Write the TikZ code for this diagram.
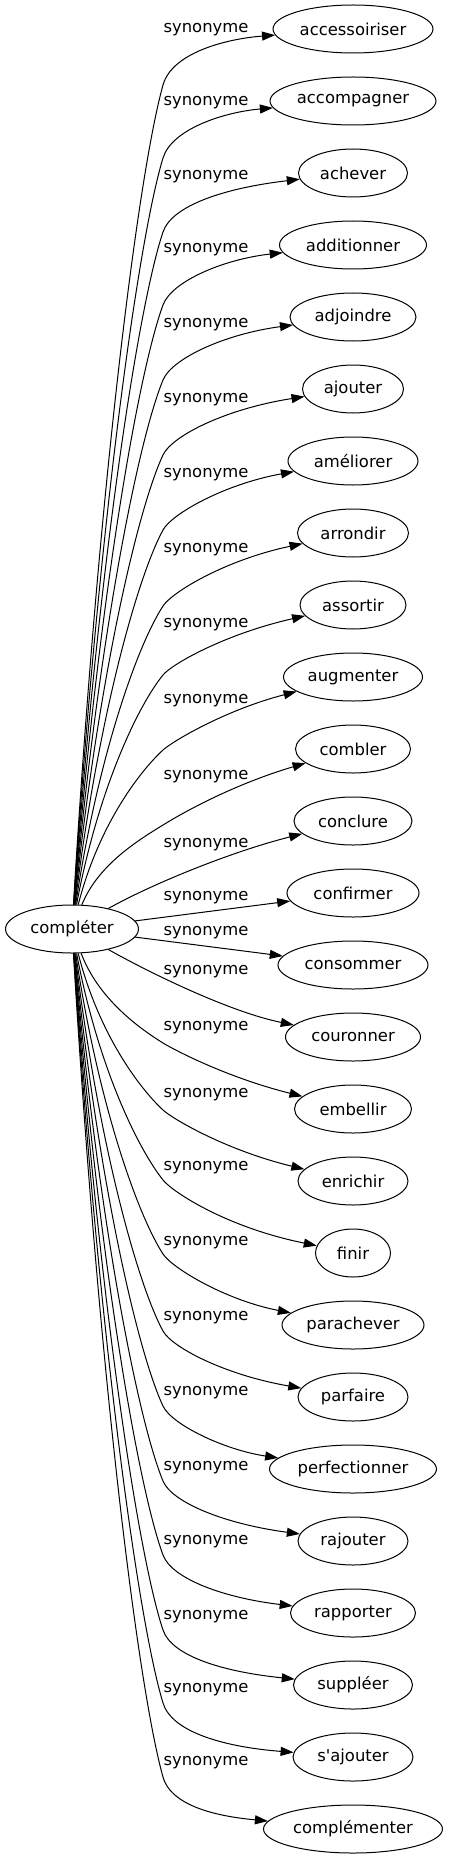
\documentclass[tikz,border=0pt]{standalone}
\usepackage{fontspec}
\setmainfont{DejaVu Sans}
\usetikzlibrary{arrows.meta,shapes.geometric}

\tikzset{
  word/.style={draw,ellipse,line width=1pt,inner sep=0pt,minimum height=48pt,
    minimum width=#1,font=\fontsize{16.4}{18}\selectfont},
  lbl/.style={inner sep=0pt,font=\fontsize{16.4}{18}\selectfont},
  syn/.style={-{Triangle[length=13pt,width=9pt]},line width=1pt}
}

\begin{document}
\begin{tikzpicture}[x=1pt,y=1pt]
  \useasboundingbox (0,0) rectangle (448,-1859);

  \node[word=133pt] (cpl) at (72,-929) {compléter};

  % the 26 synonyms, one per row
  \foreach \k/\w/\wid in {0/accessoiriser/160,1/accompagner/166,2/achever/109,
      3/additionner/147,4/adjoindre/126,5/ajouter/101,6/améliorer/130,
      7/arrondir/111,8/assortir/106,9/augmenter/139,10/combler/115,
      11/conclure/118,12/confirmer/132,13/consommer/150,14/couronner/135,
      15/embellir/117,16/enrichir/110,17/finir/75,18/parachever/142,
      19/parfaire/110,20/perfectionner/167,21/rajouter/110,22/rapporter/125,
      23/suppléer/119,24/s\textquotesingle ajouter/120,25/complémenter/179}
    \node[word=\wid pt] (n\k) at (353,{-29-72*\k}) {\w};

  % edges going up
  \foreach \k/\yl/\yb/\yc in {0/30/85/39,1/103/158/112,2/177/232/188,
      3/250/305/259,4/325/380/334,5/400/455/409,6/475/530/484,7/550/606/560,
      8/625/675/634,9/701/750/710,10/777/825/787}{
    \pgfmathsetmacro\dd{905-\yb}
    \pgfmathsetmacro\tx{225-98}
    \pgfmathsetmacro\ty{905-\dd/2-\yc}
    \node[lbl] (s\k) at (206,-\yl) {synonyme};
    \draw[syn] (cpl) .. controls (98,{\dd/2-905}) and ({163-0.2*\tx},{-\yb-0.2*\ty})
      .. (163,-\yb) .. controls ({163+0.07*\tx},{0.07*\ty-\yb}) and (225,-\yc) .. (n\k);
  }

  % the four middle ones
  \node[lbl] (s11) at (206,-845) {synonyme};
  \node[lbl] (s12) at (206,-898) {synonyme};
  \node[lbl] (s13) at (206,-933) {synonyme};
  \node[lbl] (s14) at (206,-972) {synonyme};
  \draw[syn] (cpl) .. controls (150,-885) and (230,-852) .. (n11);
  \draw[syn] (cpl) -- (n12);
  \draw[syn] (cpl) -- (n13);
  \draw[syn] (cpl) .. controls (150,-973) and (230,-1012) .. (n14);

  % edges going down
  \foreach \k/\yl/\yb/\yc in {15/1028/1043/1077,
      16/1095/1110/1150,17/1168/1180/1227,18/1243/1254/1300,
      19/1318/1331/1375,20/1393/1406/1450,21/1468/1481/1524,
      22/1542/1555/1598,23/1617/1630/1672,24/1690/1703/1747,
      25/1763/1777/1817}{
    \pgfmathsetmacro\dd{\yb-953}
    \pgfmathsetmacro\tx{225-98}
    \pgfmathsetmacro\ty{\yc-953-\dd/2}
    \node[lbl] (s\k) at (206,-\yl) {synonyme};
    \draw[syn] (cpl) .. controls (98,{-953-\dd/2}) and ({163-0.2*\tx},{0.2*\ty-\yb})
      .. (163,-\yb) .. controls ({163+0.07*\tx},{-\yb-0.07*\ty}) and (225,-\yc) .. (n\k);
  }
\end{tikzpicture}
\end{document}
